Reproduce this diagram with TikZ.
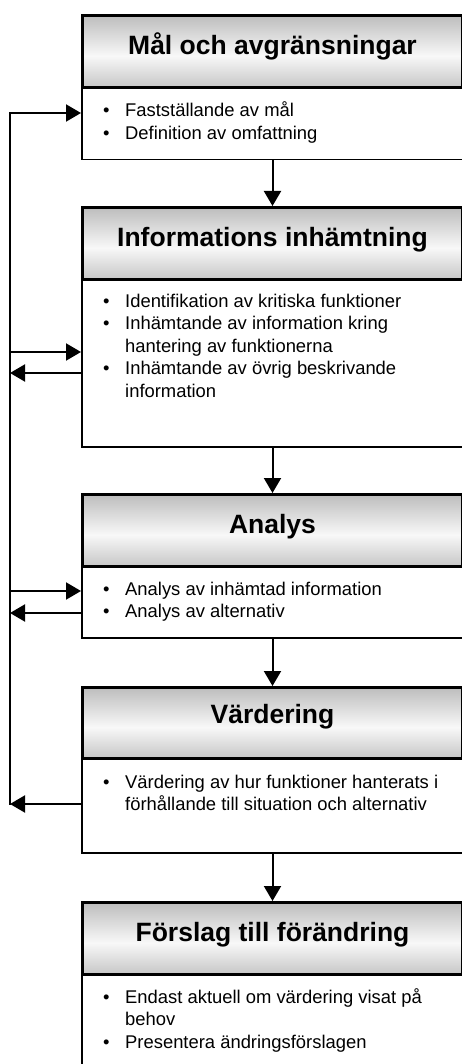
\documentclass[tikz,border=0pt]{standalone}
\usepackage{fontspec}
\setmainfont{Liberation Sans}
\usetikzlibrary{arrows.meta}

% header gradient: grey at top and bottom, nearly white a little below the middle
\definecolor{hdrtop}{HTML}{BDBDBD}
\definecolor{hdrmid}{HTML}{F8F8F8}
\definecolor{hdrbot}{HTML}{C6C6C6}
\pgfdeclareverticalshading{hdrshade}{100bp}{color(0bp)=(hdrbot); color(25bp)=(hdrbot); color(47bp)=(hdrmid); color(75bp)=(hdrtop); color(100bp)=(hdrtop)}

% bullet item with hanging indent (break lines inside an item with \newline)
\newcommand\bitem[1]{\par\noindent\hangindent=22pt\hangafter=1\makebox[22pt][l]{\textbullet}#1}

\tikzset{
  hdr/.style={draw=black, line width=3pt, shading=hdrshade, anchor=north west,
    minimum width=380pt, inner sep=0pt, text height=39pt, text depth=33pt,
    font=\fontsize{26.5}{30}\selectfont\bfseries},
  bodybox/.style={draw=black, line width=1.5pt, fill=white, anchor=north west,
    minimum width=389pt, inner sep=0pt},
  btxt/.style={anchor=base west, inner sep=0pt, font=\fontsize{18.4}{22.5}\selectfont},
  conn/.style={line width=2pt, line cap=rect},
  arr/.style={line width=2pt, -{Triangle[length=15pt,width=17pt]}}
}

\begin{document}
\begin{tikzpicture}[x=1pt, y=-1pt]
\useasboundingbox (0,0) rectangle (462,1064);

% step 1
\node[bodybox, minimum height=73pt] (b1) at (81,86) {};
\node[hdr] (h1) at (81,14) {Mål och avgränsningar};
\node[btxt] (t1) at (103,117) {\parbox[t]{350pt}{\raggedright
  \bitem{Fastställande av mål}
  \bitem{Definition av omfattning}}};

% step 2
\node[bodybox, minimum height=168pt] (b2) at (81,278) {};
\node[hdr] (h2) at (81,206) {Informations inhämtning};
\node[btxt] (t2) at (103,307) {\parbox[t]{350pt}{\raggedright
  \bitem{Identifikation av kritiska funktioner}
  \bitem{Inhämtande av information kring\newline hantering av funktionerna}
  \bitem{Inhämtande av övrig beskrivande\newline information}}};

% step 3
\node[bodybox, minimum height=72pt] (b3) at (81,565) {};
\node[hdr] (h3) at (81,493) {Analys};
\node[btxt] (t3) at (103,595) {\parbox[t]{350pt}{\raggedright
  \bitem{Analys av inhämtad information}
  \bitem{Analys av alternativ}}};

% step 4
\node[bodybox, minimum height=95pt] (b4) at (81,757) {};
\node[hdr, text height=36pt, text depth=35pt] (h4) at (81,686) {Värdering};
\node[btxt] (t4) at (103,788) {\parbox[t]{350pt}{\raggedright
  \bitem{Värdering av hur funktioner hanterats i\newline förhållande till situation och alternativ}}};

% step 5
\node[bodybox, minimum height=100pt] (b5) at (81,973) {};
\node[hdr] (h5) at (81,901) {Förslag till förändring};
\node[btxt] (t5) at (103,1003) {\parbox[t]{350pt}{\raggedright
  \bitem{Endast aktuell om värdering visat på\newline behov}
  \bitem{Presentera ändringsförslagen}}};

% main flow
\draw[arr] (h1.center |- b1.south) -- (h2.north);
\draw[arr] (h2.center |- b2.south) -- (h3.north);
\draw[arr] (h3.center |- b3.south) -- (h4.north);
\draw[arr] (h4.center |- b4.south) -- (h5.north);

% feedback line on the left
\coordinate (fbtop) at (10,113);
\coordinate (fbbot) at (10,804);
\coordinate (in2) at (10,352);
\coordinate (out2) at (10,373);
\coordinate (in3) at (10,591);
\coordinate (out3) at (10,613);
\draw[conn] (fbtop) -- (fbbot);
\draw[arr] (fbtop) -- (fbtop -| b1.west);
\draw[arr] (in2) -- (in2 -| b2.west);
\draw[arr] (out2 -| b2.west) -- (out2);
\draw[arr] (in3) -- (in3 -| b3.west);
\draw[arr] (out3 -| b3.west) -- (out3);
\draw[arr] (fbbot -| b4.west) -- (fbbot);
\end{tikzpicture}
\end{document}
